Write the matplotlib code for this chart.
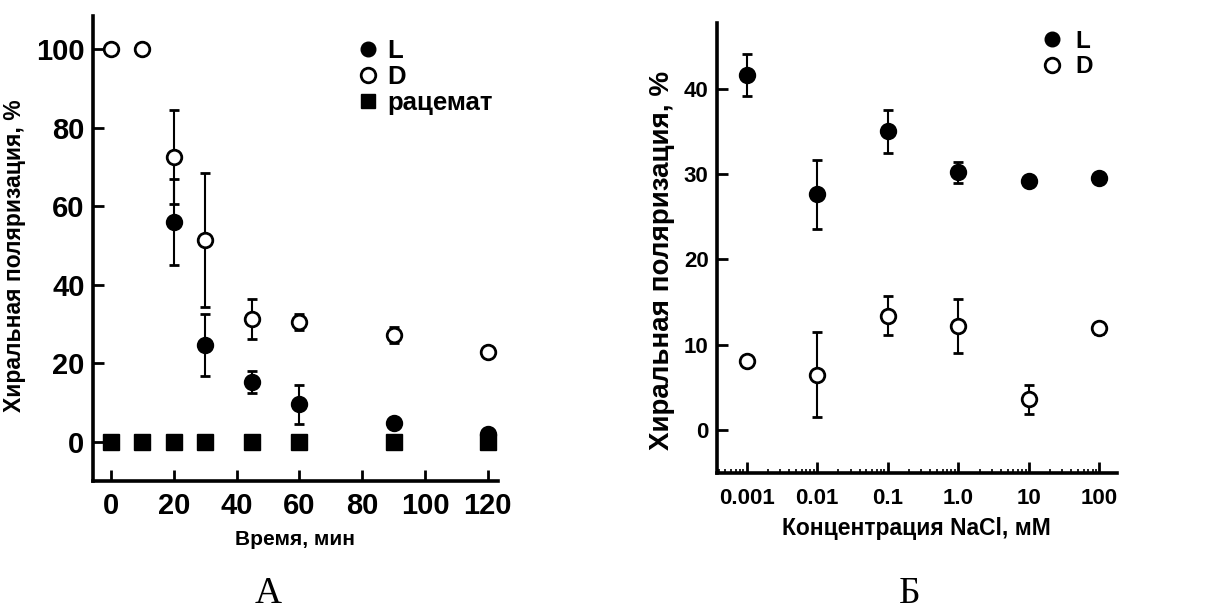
import matplotlib.pyplot as plt

# Panel A: time course
time_min = [0, 10, 20, 30, 45, 60, 90, 120]
d_time = [0, 10, 20, 30, 45, 60, 90, 120]
d_vals = [100, 100, 72.5, 51.5, 31.3, 30.6, 27.3, 22.8]
d_err = [0, 0, 12, 17, 5, 2, 2, 0.8]
l_time = [20, 30, 45, 60, 90, 120]
l_vals = [56, 24.7, 15.2, 9.6, 4.8, 2.0]
l_err = [11, 7.9, 2.8, 5, 1, 0.8]
rac_vals = [0, 0, 0, 0, 0, 0, 0, 0]
a_xticks = [0, 20, 40, 60, 80, 100, 120]
a_yticks = [0, 20, 40, 60, 80, 100]

# Panel B: NaCl concentration
nacl_mm = [0.001, 0.01, 0.1, 1.0, 10, 100]
nacl_labels = ["0.001", "0.01", "0.1", "1.0", "10", "100"]
b_l_vals = [41.6, 27.6, 35.0, 30.2, 29.2, 29.5]
b_l_err = [2.5, 4.0, 2.5, 1.2, 0.5, 0.5]
b_d_vals = [8.1, 6.5, 13.4, 12.2, 3.6, 11.9]
b_d_err = [0.5, 5.0, 2.3, 3.2, 1.7, 0.6]
b_yticks = [0, 10, 20, 30, 40]

SANS = ["Liberation Sans", "DejaVu Sans"]
SERIF = ["Liberation Serif", "DejaVu Serif"]

fig = plt.figure(figsize=(12.15, 6.11), dpi=100)


def style_axes(ax, tick_size, pad):
    for side in ("top", "right"):
        ax.spines[side].set_visible(False)
    for side in ("left", "bottom"):
        ax.spines[side].set_linewidth(2.6)
    ax.tick_params(which="major", direction="in", length=8, width=2, pad=6)
    ax.tick_params(axis="x", which="major", pad=pad)
    ax.tick_params(which="minor", direction="in", length=3, width=1.2)
    for lab in ax.get_xticklabels() + ax.get_yticklabels():
        lab.set_family(SANS)
        lab.set_fontweight("bold")
        lab.set_fontsize(tick_size)


eb = dict(ecolor="black", elinewidth=1.5, capsize=3.5, capthick=1.5,
          mec="black", mew=2, linestyle="none")

# ---- Panel A
axA = fig.add_axes([0.0765, 0.2128, 0.3333, 0.761])
axA.plot(time_min, rac_vals, "s", color="black", ms=11, zorder=2)
axA.errorbar(l_time, l_vals, yerr=l_err, fmt="o", mfc="black", ms=10.5, zorder=3, **eb)
axA.errorbar(d_time, d_vals, yerr=d_err, fmt="o", mfc="white", ms=10.5, zorder=4, **eb)
axA.set_xlim(-5.73, 123.2)
axA.set_ylim(-9.94, 108.5)
axA.set_xticks(a_xticks)
axA.set_yticks(a_yticks)
style_axes(axA, 21, 8)
axA.set_ylabel("Хиральная поляризация, %", family=SANS, fontweight="bold", fontsize=16.5)
axA.yaxis.set_label_coords(-0.165, 0.484)
axA.set_xlabel("Время, мин", family=SANS, fontweight="bold", fontsize=15, labelpad=7)

hL = axA.plot([], [], "o", color="black", ms=10.5)[0]
hD = axA.plot([], [], "o", mfc="white", mec="black", mew=2, ms=10.5)[0]
hR = axA.plot([], [], "s", color="black", ms=10)[0]
axA.legend([hL, hD, hR], ["L", "D", "рацемат"], loc="upper left",
           bbox_to_anchor=(0.285, 0.958), bbox_transform=fig.transFigure,
           frameon=False, handlelength=0.7, handletextpad=0.4, labelspacing=0.08,
           borderpad=0, prop=dict(family=SANS, weight="bold", size=18.5))

fig.text(0.221, 0.028, "А", family=SERIF, fontsize=27, ha="center", va="center")

# ---- Panel B
axB = fig.add_axes([0.5901, 0.2264, 0.329, 0.736])
axB.errorbar(nacl_mm, b_l_vals, yerr=b_l_err, fmt="o", mfc="black", ms=10.5, zorder=3, **eb)
axB.errorbar(nacl_mm, b_d_vals, yerr=b_d_err, fmt="o", mfc="white", ms=10.5, zorder=4, **eb)
axB.set_xscale("log")
axB.set_xlim(3.8e-4, 176)
axB.set_ylim(-5.0, 47.7)
axB.set_xticks(nacl_mm)
axB.set_xticklabels(nacl_labels)
axB.set_yticks(b_yticks)
style_axes(axB, 16, 11)
axB.set_ylabel("Хиральная поляризация, %", family=SANS, fontweight="bold", fontsize=20)
axB.yaxis.set_label_coords(-0.105, 0.471)
axB.set_xlabel("Концентрация NaCl, мМ", family=SANS, fontweight="bold",
               fontsize=16.5, labelpad=6)

hL2 = axB.plot([], [], "o", color="black", ms=10.5)[0]
hD2 = axB.plot([], [], "o", mfc="white", mec="black", mew=2, ms=10.5)[0]
axB.legend([hL2, hD2], ["L", "D"], loc="upper left",
           bbox_to_anchor=(0.849, 0.971), bbox_transform=fig.transFigure,
           frameon=False, handlelength=0.7, handletextpad=0.6, labelspacing=0.1,
           borderpad=0, prop=dict(family=SANS, weight="bold", size=17.5))

fig.text(0.749, 0.028, "Б", family=SERIF, fontsize=27, ha="center", va="center")

fig.savefig("out.png", dpi=100)
